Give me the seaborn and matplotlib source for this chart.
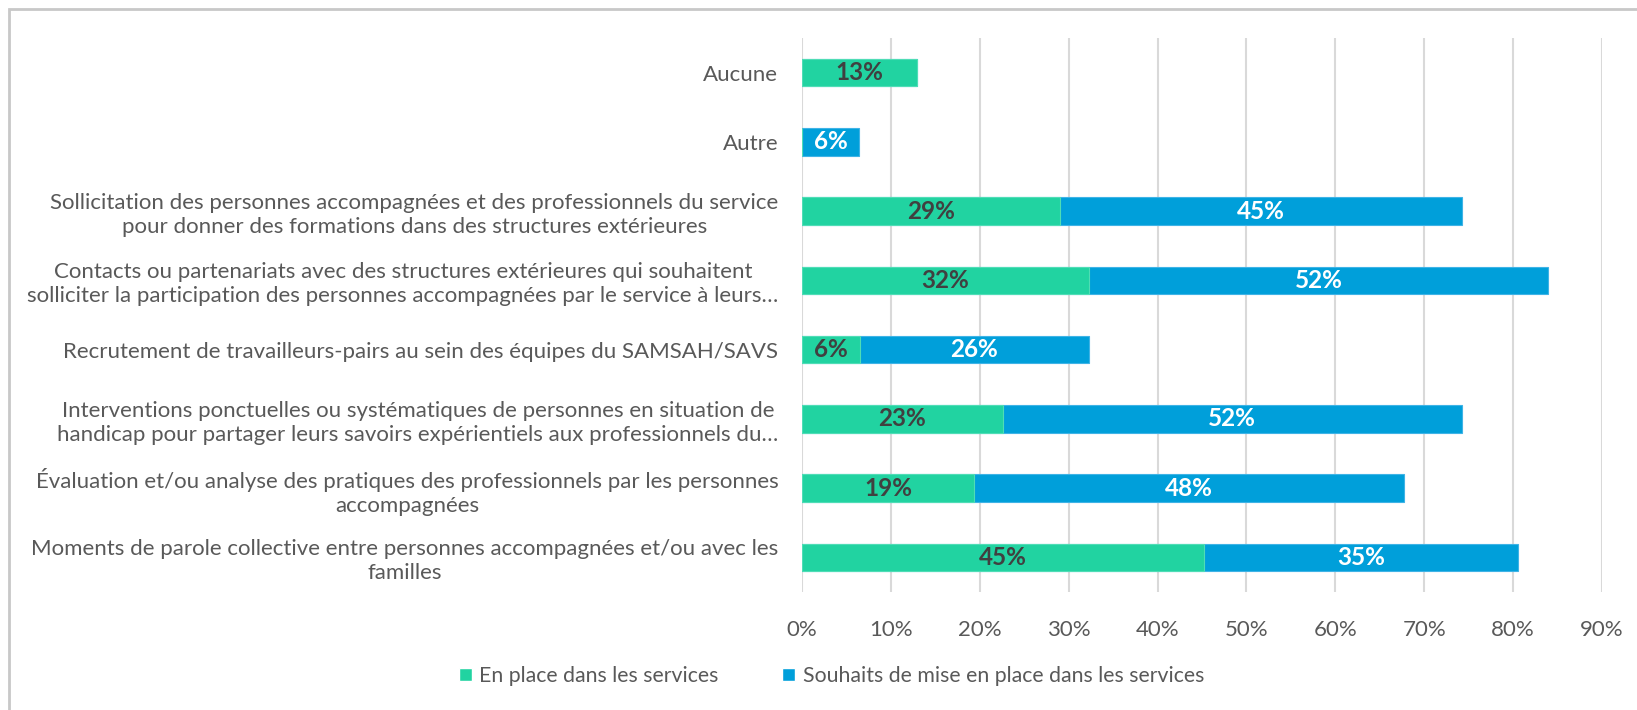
import matplotlib
matplotlib.use("Agg")
import matplotlib.pyplot as plt
import seaborn as sns
import pandas as pd
from matplotlib.patches import Patch, Rectangle
from matplotlib.ticker import FuncFormatter

# données (en %)
categories = [
    "Aucune",
    "Autre",
    "Sollicitation des personnes accompagnées et des professionnels du service\npour donner des formations dans des structures extérieures",
    "Contacts ou partenariats avec des structures extérieures qui souhaitent\nsolliciter la participation des personnes accompagnées par le service à leurs…",
    "Recrutement de travailleurs-pairs au sein des équipes du SAMSAH/SAVS",
    "Interventions ponctuelles ou systématiques de personnes en situation de\nhandicap pour partager leurs savoirs expérientiels aux professionnels du…",
    "Évaluation et/ou analyse des pratiques des professionnels par les personnes\naccompagnées",
    "Moments de parole collective entre personnes accompagnées et/ou avec les\nfamilles",
]
enPlace = [12.9, 0, 29.0, 32.3, 6.5, 22.6, 19.4, 45.2]
souhaits = [0, 6.4, 45.2, 51.6, 25.8, 51.6, 48.3, 35.4]
seriesNames = ["En place dans les services", "Souhaits de mise en place dans les services"]
xTicks = [0, 10, 20, 30, 40, 50, 60, 70, 80, 90]

green = "#21D3A1"
blue = "#009FDA"
grey = "#595959"

dataSet = pd.DataFrame({"cat": categories, "enPlace": enPlace, "souhaits": souhaits})
dataSet["total"] = dataSet["enPlace"] + dataSet["souhaits"]

sns.set_style("white")
plt.rcParams["font.family"] = ["Lato", "DejaVu Sans"]

fig = plt.figure(figsize=(16.37, 7.10), dpi=100)
ax = fig.add_axes([802 / 1637, 1 - 592 / 710, 800 / 1637, 554 / 710])

# barres empilées : total (bleu) puis la partie "en place" (vert) par-dessus
sns.barplot(data=dataSet, x="total", y="cat", color=blue, width=0.4, saturation=1,
            edgecolor="#3FB3E6", linewidth=0.8, ax=ax)
sns.barplot(data=dataSet, x="enPlace", y="cat", color=green, width=0.4, saturation=1,
            edgecolor="#4FDDB5", linewidth=0.8, ax=ax)

# étiquettes de valeurs
for i, row in dataSet.iterrows():
    if row["enPlace"] > 0:
        ax.text(row["enPlace"] / 2, i, f"{row['enPlace']:.0f}%", ha="center", va="center",
                fontsize=17.5, fontweight="bold", color="#404040")
    if row["souhaits"] > 0:
        ax.text(row["enPlace"] + row["souhaits"] / 2, i, f"{row['souhaits']:.0f}%", ha="center",
                va="center", fontsize=17.5, fontweight="bold", color="white")

ax.set_xlim(0, 90)
ax.set_ylim(7.5, -0.5)
ax.set_xticks(xTicks)
ax.xaxis.set_major_formatter(FuncFormatter(lambda v, p: f"{v:.0f}%"))
ax.grid(axis="x", color="#D9D9D9", linewidth=1.5)
ax.set_axisbelow(True)
for s in ax.spines.values():
    s.set_visible(False)
ax.set_xlabel("")
ax.set_ylabel("")
ax.tick_params(axis="x", length=0, pad=20, labelsize=16, labelcolor=grey)
ax.tick_params(axis="y", length=0, pad=17, labelsize=16, labelcolor=grey)
for lab in ax.get_yticklabels():
    lab.set_multialignment("center")
    lab.set_linespacing(1.25)

handles = [Patch(facecolor=green), Patch(facecolor=blue)]
fig.legend(handles, seriesNames, loc="center", bbox_to_anchor=(0.508, 1 - 676 / 710), ncol=2,
           frameon=False, fontsize=15.3, labelcolor=grey, handlelength=0.6, handleheight=0.6,
           handletextpad=0.35, columnspacing=3.0)

# cadre de la zone de graphique
fig.add_artist(Rectangle((9 / 1637, -0.1), 1.2, 1.1 - 9 / 710, transform=fig.transFigure,
                         fill=False, edgecolor="#C8C8C8", linewidth=2))

fig.savefig("out.png", dpi=100)
